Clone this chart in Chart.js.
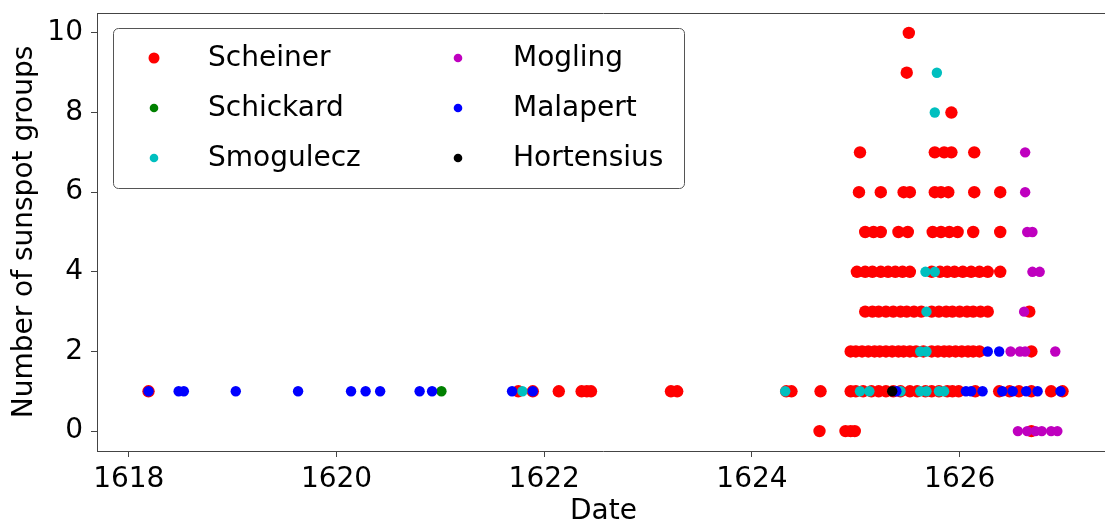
<!DOCTYPE html>
<html>
<head>
<meta charset="utf-8">
<script src="https://cdn.jsdelivr.net/npm/chart.js@4/dist/chart.umd.min.js"></script>
<style>
  html, body { margin: 0; padding: 0; overflow: hidden; background: #fff; }
  #grafico { position: absolute; left: 0; top: 0; }
</style>
</head>
<body>
<canvas id="grafico" width="1116" height="522"></canvas>
<script>
// observaciones (fecha en años, numero de grupos)
var scheinerFechas = [
	1624.65, 1624.90, 1624.95, 1624.99, 1626.69,
	1618.19, 1621.75, 1621.89, 1622.14, 1622.36, 1622.41, 1622.45, 1623.22, 1623.28, 1624.33, 1624.38, 1624.66,
	1624.95, 1625.00, 1625.07, 1625.15, 1625.22, 1625.29, 1625.36, 1625.43, 1625.52, 1625.59, 1625.67, 1625.73,
	1625.80, 1625.88, 1625.93, 1625.99, 1626.15, 1626.38, 1626.48, 1626.57, 1626.69, 1626.88, 1626.99,
	1624.95, 1625.00, 1625.06, 1625.12, 1625.18, 1625.23, 1625.29, 1625.35, 1625.41, 1625.46, 1625.52, 1625.58,
	1625.65, 1625.73, 1625.79, 1625.85, 1625.90, 1625.96, 1626.02, 1626.08, 1626.13, 1626.19, 1626.69,
	1625.09, 1625.16, 1625.22, 1625.29, 1625.36, 1625.43, 1625.49, 1625.56, 1625.63, 1625.73, 1625.80, 1625.87,
	1625.93, 1626.00, 1626.07, 1626.13, 1626.20, 1626.27, 1626.67,
	1625.01, 1625.09, 1625.16, 1625.24, 1625.31, 1625.38, 1625.45, 1625.52, 1625.73, 1625.81, 1625.88, 1625.95,
	1626.03, 1626.11, 1626.19, 1626.27, 1626.39,
	1625.09, 1625.17, 1625.24, 1625.41, 1625.50, 1625.74, 1625.82, 1625.90, 1625.98, 1626.13, 1626.39,
	1625.03, 1625.24, 1625.46, 1625.52, 1625.76, 1625.82, 1625.89, 1626.14, 1626.39,
	1625.04, 1625.76, 1625.85, 1625.92, 1626.14,
	1625.92,
	1625.49,
	1625.51
];
var scheinerGrupos = [
	0, 0, 0, 0, 0,
	1, 1, 1, 1, 1, 1, 1, 1, 1, 1, 1, 1,
	1, 1, 1, 1, 1, 1, 1, 1, 1, 1, 1, 1,
	1, 1, 1, 1, 1, 1, 1, 1, 1, 1, 1,
	2, 2, 2, 2, 2, 2, 2, 2, 2, 2, 2, 2,
	2, 2, 2, 2, 2, 2, 2, 2, 2, 2, 2,
	3, 3, 3, 3, 3, 3, 3, 3, 3, 3, 3, 3,
	3, 3, 3, 3, 3, 3, 3,
	4, 4, 4, 4, 4, 4, 4, 4, 4, 4, 4, 4,
	4, 4, 4, 4, 4,
	5, 5, 5, 5, 5, 5, 5, 5, 5, 5, 5,
	6, 6, 6, 6, 6, 6, 6, 6, 6,
	7, 7, 7, 7, 7,
	8,
	9,
	10
];

var schickardFechas = [1621.01];
var schickardGrupos = [1];

var smoguleczFechas = [1621.79, 1624.32, 1625.04, 1625.13, 1625.43, 1625.62, 1625.68, 1625.80, 1625.85,
	1625.62, 1625.68, 1625.68, 1625.67, 1625.76, 1625.76, 1625.78];
var smoguleczGrupos = [1, 1, 1, 1, 1, 1, 1, 1, 1, 2, 2, 3, 4, 4, 8, 9];

var moglingFechas = [1626.56, 1626.65, 1626.73, 1626.79, 1626.88, 1626.94, 1626.49, 1626.58, 1626.63, 1626.92,
	1626.62, 1626.70, 1626.77, 1626.65, 1626.70, 1626.63, 1626.63];
var moglingGrupos = [0, 0, 0, 0, 0, 0, 2, 2, 2, 2, 3, 4, 4, 5, 5, 6, 7];

var malapertFechas = [1618.19, 1618.48, 1618.53, 1619.03, 1619.63, 1620.14, 1620.28, 1620.42, 1620.80, 1620.92,
	1621.69, 1621.89, 1625.39, 1626.06, 1626.11, 1626.22, 1626.41, 1626.51, 1626.64, 1626.75, 1626.97,
	1626.27, 1626.38];
var malapertGrupos = [1, 1, 1, 1, 1, 1, 1, 1, 1, 1, 1, 1, 1, 1, 1, 1, 1, 1, 1, 1, 1, 2, 2];

var hortensiusFechas = [1625.35];
var hortensiusGrupos = [1];

var ticksX = [1618, 1620, 1622, 1624, 1626];
var ticksY = [0, 2, 4, 6, 8, 10];

function puntos(fechas, grupos){
	return fechas.map(function(f, i){ return {x: f, y: grupos[i]}; });
}

function serie(nombre, fechas, grupos, color, radio, orden){
	return {
		label: nombre,
		data: puntos(fechas, grupos),
		backgroundColor: color,
		borderWidth: 0,
		pointRadius: radio,
		pointHoverRadius: radio,
		order: orden
	};
}

// recuadro superior y leyenda en dos columnas como en matplotlib
var marcoYLeyenda = {
	id: 'marcoYLeyenda',
	afterDraw: function(chart){
		var ctx = chart.ctx;
		var area = chart.chartArea;
		ctx.save();
		ctx.strokeStyle = '#444';
		ctx.lineWidth = 1;
		ctx.beginPath();
		ctx.moveTo(area.left, area.top + 0.5);
		ctx.lineTo(area.right, area.top + 0.5);
		ctx.stroke();

		var x0 = 113.5, y0 = 28.5, x1 = 684.5, y1 = 188.5, r = 5;
		ctx.beginPath();
		ctx.moveTo(x0 + r, y0);
		ctx.arcTo(x1, y0, x1, y1, r);
		ctx.arcTo(x1, y1, x0, y1, r);
		ctx.arcTo(x0, y1, x0, y0, r);
		ctx.arcTo(x0, y0, x1, y0, r);
		ctx.closePath();
		ctx.fillStyle = 'rgba(255,255,255,0.85)';
		ctx.fill();
		ctx.strokeStyle = '#555';
		ctx.stroke();

		var columnas = [{m: 154, t: 208}, {m: 458, t: 513}];
		var filas = [58, 108, 158];
		ctx.font = '28px "DejaVu Sans"';
		ctx.textBaseline = 'middle';
		ctx.textAlign = 'left';
		chart.data.datasets.forEach(function(ds, i){
			var c = columnas[Math.floor(i / 3)];
			var y = filas[i % 3];
			ctx.fillStyle = ds.backgroundColor;
			ctx.beginPath();
			ctx.arc(c.m, y, i === 0 ? 5.5 : 4.3, 0, Math.PI * 2);
			ctx.fill();
			ctx.fillStyle = '#000';
			ctx.fillText(ds.label, c.t, y + 1);
		});
		ctx.restore();
	}
};

Chart.defaults.font.family = '"DejaVu Sans"';
Chart.defaults.font.size = 28;
Chart.defaults.color = '#000';

new Chart(document.getElementById('grafico'), {
	type: 'scatter',
	data: {
		datasets: [
			serie('Scheiner', scheinerFechas, scheinerGrupos, '#ff0000', 6.2, 6),
			serie('Schickard', schickardFechas, schickardGrupos, '#008000', 5.2, 5),
			serie('Smogulecz', smoguleczFechas, smoguleczGrupos, '#00bfbf', 5.2, 4),
			serie('Mogling', moglingFechas, moglingGrupos, '#bf00bf', 5.2, 3),
			serie('Malapert', malapertFechas, malapertGrupos, '#0000ff', 5.2, 2),
			serie('Hortensius', hortensiusFechas, hortensiusGrupos, '#000000', 5.2, 1)
		]
	},
	options: {
		responsive: false,
		animation: false,
		events: [],
		layout: { padding: { top: 0, right: 0, bottom: 0, left: 0 } },
		plugins: { legend: { display: false }, tooltip: { enabled: false } },
		scales: {
			x: {
				type: 'linear',
				min: 1617.694,
				max: 1627.445,
				afterFit: function(s){ s.height = 71; },
				afterBuildTicks: function(s){ s.ticks = ticksX.map(function(v){ return {value: v}; }); },
				ticks: {
					padding: 9,
					font: { size: 28, lineHeight: 1 },
					callback: function(v){ return String(v); }
				},
				grid: { drawOnChartArea: false, drawTicks: true, tickLength: 6, color: '#444' },
				border: { display: true, color: '#444', width: 1 },
				title: { display: true, text: 'Date', font: { size: 28, lineHeight: 0.75 }, padding: 0 }
			},
			y: {
				min: -0.5,
				max: 10.5,
				afterFit: function(s){ s.width = 97; s.paddingTop = 13; },
				afterBuildTicks: function(s){ s.ticks = ticksY.map(function(v){ return {value: v}; }); },
				ticks: {
					padding: 8,
					font: { size: 28, lineHeight: 1 },
					callback: function(v){ return String(v); }
				},
				grid: { drawOnChartArea: false, drawTicks: true, tickLength: 6, color: '#444' },
				border: { display: true, color: '#444', width: 1 },
				title: { display: true, text: 'Number of sunspot groups', font: { size: 28, lineHeight: 1 }, padding: { top: 11, bottom: 0 } }
			}
		}
	},
	plugins: [marcoYLeyenda]
});
</script>
</body>
</html>
